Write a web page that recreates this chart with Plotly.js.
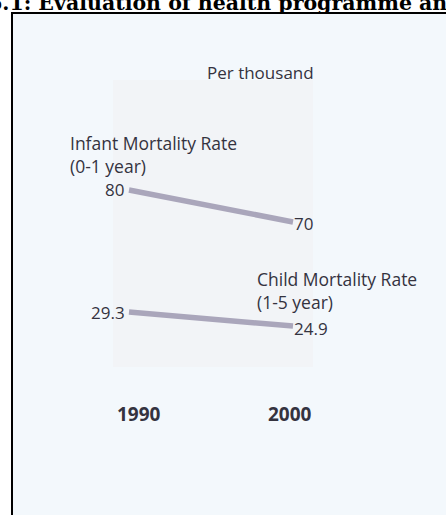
<!DOCTYPE html>
<html>
<head>
<meta charset="utf-8">
<script src="https://cdn.plot.ly/plotly-3.0.1.min.js"></script>
<style>html,body{margin:0;padding:0;background:#fff;}#chart{width:446px;height:515px;}</style>
</head>
<body>
<div id="chart"></div>
<script>
// ---- data ----
var years = [1990, 2000];
var yearLabels = ["1990", "2000"];
var infant = [80, 70];
var child = [29.3, 24.9];
var infantLabel = ["Infant Mortality Rate", "(0-1 year)"];
var childLabel = ["Child Mortality Rate", "(1-5 year)"];
var unitLabel = "Per thousand";
var titleText = "6.1: Evaluation of health programme and";

var W = 446, H = 515;
var txt = "#34333f";
var lineCol = "#aaa6bb";
var sans = "Open Sans, DejaVu Sans, sans-serif";

var traces = [
  {x: years, y: infant, type: "scatter", mode: "lines", yaxis: "y",
   line: {color: lineCol, width: 5.5}, hoverinfo: "skip", showlegend: false},
  {x: years, y: child, type: "scatter", mode: "lines", yaxis: "y2",
   line: {color: lineCol, width: 5.5}, hoverinfo: "skip", showlegend: false}
];

function fnt(sz, bold) { return {family: sans, size: sz, color: txt, weight: bold ? "bold" : "normal"}; }

var ann = [];
// value labels
ann.push({x: years[0], y: infant[0], xref: "x", yref: "y", text: String(infant[0]), showarrow: false,
  xanchor: "right", yanchor: "middle", xshift: -3, yshift: 1, font: fnt(17)});
ann.push({x: years[1], y: infant[1], xref: "x", yref: "y", text: String(infant[1]), showarrow: false,
  xanchor: "left", yanchor: "middle", xshift: -1, yshift: -1, font: fnt(17)});
ann.push({x: years[0], y: child[0], xref: "x", yref: "y2", text: String(child[0]), showarrow: false,
  xanchor: "right", yanchor: "middle", xshift: -2, yshift: 0, font: fnt(17)});
ann.push({x: years[1], y: child[1], xref: "x", yref: "y2", text: String(child[1]), showarrow: false,
  xanchor: "left", yanchor: "middle", xshift: -1, yshift: -2, font: fnt(17)});
// series names
ann.push({x: years[0], y: infant[0], xref: "x", yref: "y", text: infantLabel.join("<br>"), showarrow: false,
  xanchor: "left", yanchor: "bottom", align: "left", xshift: -61, yshift: 10, font: fnt(17.5)});
ann.push({x: years[1], y: child[1], xref: "x", yref: "y2", text: childLabel.join("<br>"), showarrow: false,
  xanchor: "left", yanchor: "bottom", align: "left", xshift: -38, yshift: 10, font: fnt(17.5)});
// unit label
ann.push({x: 1998, y: 1 - 73 / H, xref: "x", yref: "paper", text: unitLabel, showarrow: false,
  xanchor: "center", yanchor: "middle", xshift: 0, font: fnt(17)});
// year labels
var yshifts = [10, -3];
for (var i = 0; i < years.length; i++) {
  ann.push({x: years[i], y: 1 - 414 / H, xref: "x", yref: "paper", text: yearLabels[i], showarrow: false,
    xanchor: "center", yanchor: "middle", xshift: yshifts[i], font: fnt(19, true)});
}
// title (cropped in the original scan)
ann.push({x: -14 / W, y: 1 - 3 / H, xref: "paper", yref: "paper", text: titleText, showarrow: false,
  xanchor: "left", yanchor: "middle",
  font: {family: "DejaVu Serif, Liberation Serif, serif", size: 20.5, color: "#000", weight: "bold"}});

var layout = {
  width: W, height: H,
  margin: {l: 0, r: 0, t: 0, b: 0, pad: 0},
  paper_bgcolor: "#ffffff",
  plot_bgcolor: "rgba(0,0,0,0)",
  xaxis: {range: [1990 - 129 / 16.4, 1990 + (W - 129) / 16.4], visible: false, fixedrange: true},
  yaxis: {range: [80 - (H - 190) / 3.2, 80 + 190 / 3.2], visible: false, fixedrange: true},
  yaxis2: {range: [29.3 - (H - 312) / 3.2, 29.3 + 312 / 3.2], visible: false, overlaying: "y", fixedrange: true},
  shapes: [
    {type: "rect", xref: "paper", yref: "paper", x0: 12 / W, x1: 1.02, y0: -0.02, y1: 1 - 13 / H,
     fillcolor: "#f3f8fc", line: {color: "#000", width: 2}, layer: "below"},
    {type: "rect", xref: "paper", yref: "paper", x0: 113 / W, x1: 313 / W, y0: 1 - 367 / H, y1: 1 - 80 / H,
     fillcolor: "#f2f4f7", line: {width: 0}, layer: "below"}
  ],
  annotations: ann,
  showlegend: false
};

Plotly.newPlot("chart", traces, layout, {displayModeBar: false, staticPlot: true});
</script>
</body>
</html>
